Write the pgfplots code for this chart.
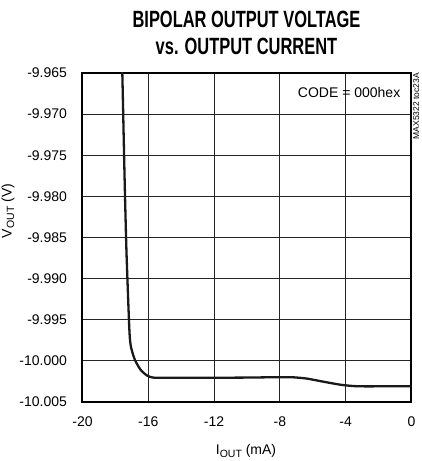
\documentclass[border=0pt]{standalone}
\usepackage{fontspec}
\setmainfont{Liberation Sans}
\newfontfamily\titlefont[FakeStretch=0.7]{Liberation Sans Bold}
\usepackage{pgfplots}
\pgfplotsset{compat=1.18}
\begin{document}
\begin{tikzpicture}
\begin{axis}[
  scale only axis, width=329pt, height=329pt,
  xmin=-20, xmax=0, ymin=-10.005, ymax=-9.965,
  xtick={-20,-16,-12,-8,-4,0},
  xticklabels={-20,-16,-12,-8,-4,0},
  ytick={-10.005,-10.000,-9.995,-9.990,-9.985,-9.980,-9.975,-9.970,-9.965},
  yticklabels={-10.005,-10.000,-9.995,-9.990,-9.985,-9.980,-9.975,-9.970,-9.965},
  major tick length=0pt,
  grid=major,
  major grid style={black!85, line width=0.9pt},
  axis line style={line width=2pt, black},
  tick label style={font=\fontsize{14}{16}\selectfont},
  yticklabel style={xshift=-12pt},
  xticklabel style={yshift=-11pt},
  clip=true,
]
\addplot[line width=2.3pt, black!90, smooth, tension=0.4] coordinates {
(-17.62,-9.9640)
(-17.58,-9.9650)
(-17.45,-9.9770)
(-17.33,-9.98652)
(-17.15,-9.99625)
(-17.05,-9.99833)
(-16.81,-9.99990)
(-16.46,-10.0011)
(-16.06,-10.0018)
(-15.60,-10.00205)
(-14.00,-10.00205)
(-12.00,-10.00205)
(-10.00,-10.00203)
(-8.00,-10.00198)
(-7.18,-10.00200)
(-6.37,-10.00215)
(-5.36,-10.00253)
(-4.35,-10.00289)
(-3.54,-10.00306)
(-2.72,-10.00310)
(-1.00,-10.00308)
(0.00,-10.00308)
};
\end{axis}
\path (current axis.south west) ++(164pt,374pt) node[anchor=base, inner sep=0pt]
  {\titlefont\fontsize{23.5}{26}\selectfont BIPOLAR OUTPUT VOLTAGE};
\path (current axis.south west) ++(164pt,347pt) node[anchor=base, inner sep=0pt]
  {\titlefont\fontsize{23.5}{26}\selectfont vs. OUTPUT CURRENT};
\path (current axis.south west) ++(-74.5pt,191pt) node[rotate=90, inner sep=0pt]
  {\fontsize{14}{16}\selectfont V\raisebox{-0.35ex}{\fontsize{10.5}{12}\selectfont OUT} (V)};
\path (current axis.south west) ++(163.5pt,-49pt) node[inner sep=0pt]
  {\fontsize{14}{16}\selectfont I\raisebox{-0.35ex}{\fontsize{10.5}{12}\selectfont OUT} (mA)};
\path (current axis.north east) ++(-11pt,-19pt) node[anchor=east, inner sep=0pt]
  {\fontsize{14}{16}\selectfont CODE = 000hex};
\path (current axis.north east) ++(1.5pt,0pt) node[rotate=90, anchor=north east, inner sep=0pt]
  {\fontsize{8.5}{10}\selectfont MAX5322 toc23A};
\pgfresetboundingbox
\path[use as bounding box] (current axis.south west) ++(-82.5pt,-59pt) rectangle ++(422pt,461pt);
\end{tikzpicture}
\end{document}
